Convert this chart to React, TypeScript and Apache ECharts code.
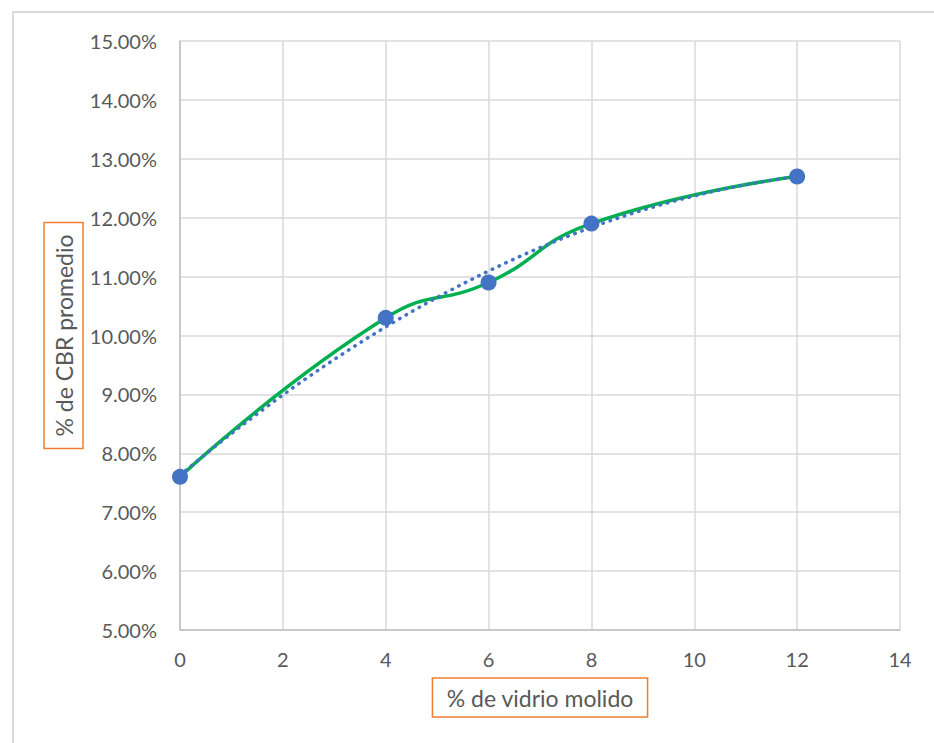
import React, { useEffect, useRef } from "react";
import * as echarts from "echarts";

const vidrio: number[] = [0, 4, 6, 8, 12];
const cbr: number[] = [7.6, 10.3, 10.9, 11.9, 12.7];
const xTicks = { min: 0, max: 14, interval: 2 };
const yTicks = { min: 5, max: 15, interval: 1 };
const xTitle = "% de vidrio molido";
const yTitle = "% de CBR promedio";

// Excel-style polynomial (order 2) trendline, least squares fit of the data above
function quadFit(xs: number[], ys: number[]) {
  const n = xs.length;
  const mx = xs.reduce((a, b) => a + b, 0) / n;
  let s2 = 0, s3 = 0, s4 = 0, sy = 0, suy = 0, su2y = 0;
  xs.forEach((x, i) => {
    const u = x - mx;
    s2 += u * u; s3 += u * u * u; s4 += u * u * u * u;
    sy += ys[i]; suy += u * ys[i]; su2y += u * u * ys[i];
  });
  const M = [
    [n, 0, s2, sy],
    [0, s2, s3, suy],
    [s2, s3, s4, su2y],
  ];
  for (let i = 0; i < 3; i++) {
    let p = i;
    for (let r = i + 1; r < 3; r++) if (Math.abs(M[r][i]) > Math.abs(M[p][i])) p = r;
    [M[i], M[p]] = [M[p], M[i]];
    for (let r = 0; r < 3; r++) {
      if (r === i) continue;
      const f = M[r][i] / M[i][i];
      for (let c = i; c < 4; c++) M[r][c] -= f * M[i][c];
    }
  }
  const a = M[0][3] / M[0][0], b = M[1][3] / M[1][1], c = M[2][3] / M[2][2];
  return (x: number) => a + b * (x - mx) + c * (x - mx) * (x - mx);
}

const FONT = "Lato, 'Open Sans', sans-serif";
const TXT = "#595959";

export default function App() {
  const ref = useRef<HTMLDivElement>(null);
  useEffect(() => {
    if (!ref.current) return;
    const chart = echarts.init(ref.current, undefined, { renderer: "svg" });
    const fit = quadFit(vidrio, cbr);
    const xmin = Math.min(...vidrio), xmax = Math.max(...vidrio);
    const trend: number[][] = [];
    const steps = 120;
    for (let i = 0; i <= steps; i++) {
      const x = xmin + ((xmax - xmin) * i) / steps;
      trend.push([x, fit(x)]);
    }
    const pts = vidrio.map((x, i) => [x, cbr[i]]);
    chart.setOption({
      animation: false,
      backgroundColor: "#ffffff",
      textStyle: { fontFamily: FONT },
      grid: { left: 180, right: 34, top: 41, bottom: 113, containLabel: false },
      graphic: [
        {
          type: "rect",
          shape: { x: 13, y: 12, width: 960, height: 800 },
          style: { fill: "none", stroke: "#D9D9D9", lineWidth: 2 },
          silent: true,
        },
      ],
      xAxis: {
        type: "value",
        min: xTicks.min,
        max: xTicks.max,
        interval: xTicks.interval,
        name: xTitle,
        nameLocation: "middle",
        nameGap: 48,
        nameMoveOverlap: false,
        nameTextStyle: {
          fontFamily: FONT,
          fontSize: 23,
          color: TXT,
          borderColor: "#ED7D31",
          borderWidth: 1.5,
          padding: [8, 14, 8, 14],
          verticalAlign: "top",
        },
        axisLine: { show: true, lineStyle: { color: "#BFBFBF", width: 1.5 } },
        axisTick: { show: false },
        axisLabel: { fontFamily: FONT, fontSize: 20, color: TXT, margin: 19 },
        splitLine: { show: true, lineStyle: { color: "#D9D9D9", width: 1.5 } },
      },
      yAxis: {
        type: "value",
        min: yTicks.min,
        max: yTicks.max,
        interval: yTicks.interval,
        name: yTitle,
        nameLocation: "middle",
        nameGap: 97,
        nameMoveOverlap: false,
        nameRotate: 90,
        nameTextStyle: {
          fontFamily: FONT,
          fontSize: 23,
          color: TXT,
          borderColor: "#ED7D31",
          borderWidth: 1.5,
          padding: [8, 12, 8, 12],
          verticalAlign: "bottom",
        },
        axisLine: { show: true, lineStyle: { color: "#BFBFBF", width: 1.5 } },
        axisTick: { show: false },
        axisLabel: {
          fontFamily: FONT,
          fontSize: 20,
          color: TXT,
          margin: 23,
          formatter: (v: number) => v.toFixed(2) + "%",
        },
        splitLine: { show: true, lineStyle: { color: "#D9D9D9", width: 1.5 } },
      },
      series: [
        {
          name: "CBR",
          type: "line",
          data: pts,
          smooth: 0.5,
          symbol: "none",
          lineStyle: { color: "#00B050", width: 3.5 },
          z: 2,
        },
        {
          name: "Tendencia",
          type: "line",
          data: trend,
          symbol: "none",
          lineStyle: { color: "#4472C4", width: 3.5, type: [0.5, 7], cap: "round" },
          z: 3,
        },
        {
          name: "Puntos",
          type: "scatter",
          data: pts,
          symbol: "circle",
          symbolSize: 16,
          itemStyle: { color: "#4472C4", opacity: 1 },
          z: 4,
        },
      ],
    });
    return () => chart.dispose();
  }, []);
  return (
    <div
      ref={ref}
      style={{ position: "fixed", left: 0, top: 0, width: 934, height: 743 }}
    />
  );
}
